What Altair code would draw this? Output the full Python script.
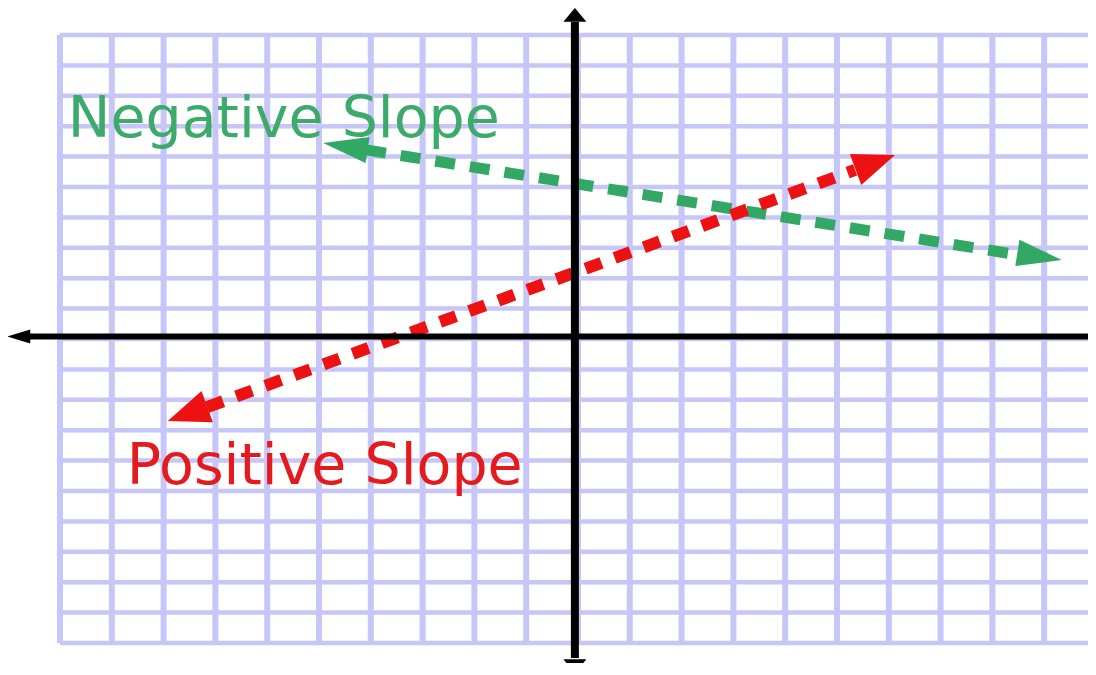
import math
import altair as alt
import pandas as pd

# ---------------- data (in grid units) ----------------
grid_x = list(range(-10, 11))          # vertical grid lines
grid_y = list(range(-10, 11))          # horizontal grid lines
grid_lo, grid_hi = -10, 10

# coordinate axes
yaxis_x = -0.06
xaxis_y = 0.08
yaxis_span = [-10.49, 10.43]
xaxis_span = [-10.58, 10.0]
axis_tips_x = [-0.06, -0.06]
axis_tips_y = [10.89, -10.99]
axis_tips_dir = [270, 90]
left_tip_x = [-11.02]
left_tip_y = [0.08]

# positive-slope (red) line
red_tip_x = [-7.92, 6.12]
red_tip_y = [-2.70, 6.05]
red_dash_x = [-7.16, 5.35]
red_dash_y = [-2.24, 5.56]

# negative-slope (green) line
green_tip_x = [-4.92, 9.34]
green_tip_y = [6.45, 2.60]
green_dash_x = [-4.09, 8.49]
green_dash_y = [6.22, 2.77]

labels = ["Negative Slope", "Positive Slope"]
label_x = [-5.68, -4.89]
label_y = [6.66, -4.76]
label_colors = ["#3BAA6B", "#E41A1C"]

# ---------------- layout / styles ----------------
W, H = 1080, 655
X0, X1 = -11.004, 9.846
Y0, Y1 = -10.658, 10.888
PX = W / (X1 - X0)
PY = H / (Y1 - Y0)

GRID = "#C6C6F8"
GREEN = "#33A865"
RED = "#EE1111"

xs = alt.Scale(domain=[X0, X1], nice=False, zero=False)
ys = alt.Scale(domain=[Y0, Y1], nice=False, zero=False)


def X(f="x"):
    return alt.X(f"{f}:Q", scale=xs, axis=None)


def Y(f="y"):
    return alt.Y(f"{f}:Q", scale=ys, axis=None)


def tip_angles(xv, yv):
    out = []
    for i in range(len(xv)):
        j = 1 - i
        dx = (xv[i] - xv[j]) * PX
        dy = -(yv[i] - yv[j]) * PY
        out.append(math.degrees(math.atan2(dy, dx)) % 360)
    return out


vgrid = pd.DataFrame({"x": grid_x, "y": [grid_lo] * len(grid_x), "y2": [grid_hi] * len(grid_x)})
hgrid = pd.DataFrame({"y": grid_y, "x": [grid_lo] * len(grid_y), "x2": [grid_hi] * len(grid_y)})

vgrid_layer = alt.Chart(vgrid).mark_rule(color=GRID, strokeWidth=6).encode(
    x=X(), y=Y(), y2="y2:Q")
hgrid_layer = alt.Chart(hgrid).mark_rule(color=GRID, strokeWidth=4.5).encode(
    y=Y(), x=X(), x2="x2:Q")

red_df = pd.DataFrame({"x": red_dash_x, "y": red_dash_y})
green_df = pd.DataFrame({"x": green_dash_x, "y": green_dash_y})

green_line = alt.Chart(green_df).mark_line(
    color=GREEN, strokeWidth=11, strokeDash=[20, 15], strokeCap="butt").encode(x=X(), y=Y())
red_line = alt.Chart(red_df).mark_line(
    color=RED, strokeWidth=12, strokeDash=[17, 14], strokeCap="butt").encode(x=X(), y=Y())

red_heads = pd.DataFrame({"x": red_tip_x, "y": red_tip_y, "angle": tip_angles(red_tip_x, red_tip_y)})
green_heads = pd.DataFrame({"x": green_tip_x, "y": green_tip_y, "angle": tip_angles(green_tip_x, green_tip_y)})

red_head_layer = alt.Chart(red_heads).mark_point(
    shape="M0,0 L-2.53,-1 L-2.53,1 Z", size=1102, filled=True, opacity=1, color=RED, strokeWidth=0
).encode(x=X(), y=Y(), angle=alt.Angle("angle:Q", scale=None))
green_head_layer = alt.Chart(green_heads).mark_point(
    shape="M0,0 L-3.4,-1 L-3.4,1 Z", size=700, filled=True, opacity=1, color=GREEN, strokeWidth=0
).encode(x=X(), y=Y(), angle=alt.Angle("angle:Q", scale=None))

yaxis_df = pd.DataFrame({"x": [yaxis_x], "y": [yaxis_span[0]], "y2": [yaxis_span[1]]})
xaxis_df = pd.DataFrame({"y": [xaxis_y], "x": [xaxis_span[0]], "x2": [xaxis_span[1]]})
yaxis_layer = alt.Chart(yaxis_df).mark_rule(color="black", strokeWidth=8).encode(x=X(), y=Y(), y2="y2:Q")
xaxis_layer = alt.Chart(xaxis_df).mark_rule(color="black", strokeWidth=6).encode(y=Y(), x=X(), x2="x2:Q")

vtips = pd.DataFrame({"x": axis_tips_x, "y": axis_tips_y, "angle": axis_tips_dir})
vtip_layer = alt.Chart(vtips).mark_point(
    shape="M0,0 L-1.2,-1 L-1.2,1 Z", size=529, filled=True, opacity=1, color="black", strokeWidth=0
).encode(x=X(), y=Y(), angle=alt.Angle("angle:Q", scale=None))
ltips = pd.DataFrame({"x": left_tip_x, "y": left_tip_y, "angle": [180]})
ltip_layer = alt.Chart(ltips).mark_point(
    shape="M0,0 L-3.3,-1 L-3.3,1 Z", size=196, filled=True, opacity=1, color="black", strokeWidth=0
).encode(x=X(), y=Y(), angle=alt.Angle("angle:Q", scale=None))

text_df = pd.DataFrame({"x": label_x, "y": label_y, "label": labels, "color": label_colors})
text_layer = alt.Chart(text_df).mark_text(
    font="DejaVu Sans", fontSize=57, align="center", baseline="alphabetic"
).encode(x=X(), y=Y(), text="label:N", color=alt.Color("color:N", scale=None))

chart = alt.layer(
    vgrid_layer, hgrid_layer,
    green_line, red_line,
    green_head_layer, red_head_layer,
    yaxis_layer, xaxis_layer, vtip_layer, ltip_layer,
    text_layer,
).properties(
    width=W, height=H, padding=0, background="white",
    autosize=alt.AutoSizeParams(type="none"),
).configure_view(stroke=None)

chart.save("out.html", embed_options={"renderer": "svg", "actions": False})
